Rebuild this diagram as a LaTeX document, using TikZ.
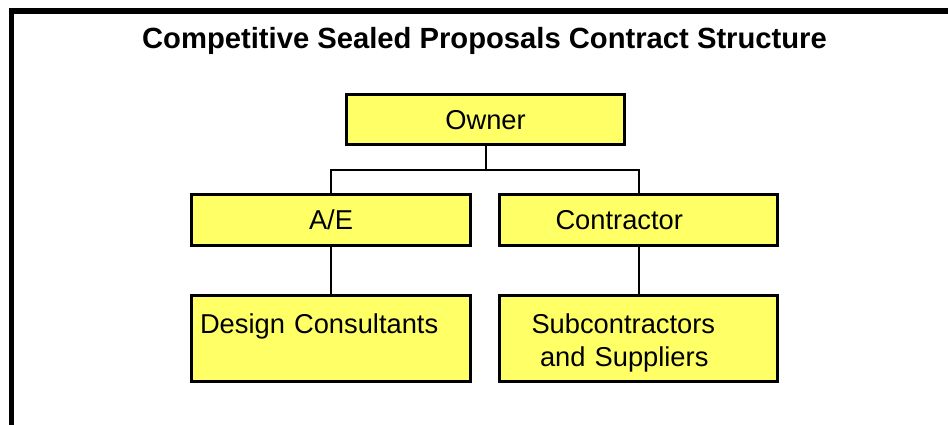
\documentclass[tikz,border=0pt]{standalone}
\usepackage{fontspec}
\setmainfont{Liberation Sans}
\definecolor{boxyellow}{HTML}{FFFF66}
\begin{document}
\begin{tikzpicture}[x=1pt,y=-1pt,
  box/.style={draw=black, line width=3pt, fill=boxyellow, inner sep=0pt,
    font=\fontsize{27.3}{33}\selectfont},
  single/.style={box, text height=19.5pt, text depth=0pt},
  tall/.style={box, align=left, text height=37.5pt, text depth=48.5pt, inner ysep=0pt},
  conn/.style={draw=black, line width=2pt},
  frame/.style={draw=black, line width=5.5pt}]
\useasboundingbox (0,0) rectangle (948,425);
\path[frame] (11.5,425) -- (11.5,11) -- (948,11);
\node[font=\bfseries\fontsize{29.2}{34}\selectfont, anchor=base] (title) at (484.5,48.5)
  {Competitive Sealed Proposals Contract Structure};
\node[single, minimum width=278pt, minimum height=50pt] (owner) at (485.5,119.5) {Owner};
\node[single, minimum width=279pt, minimum height=51pt] (ae) at (331,220) {A/E};
\node[single, minimum height=51pt, align=left, inner xsep=56pt, text width=166pt] (contractor) at (638.5,220) {Contractor};
\node[tall, inner xsep=8.5pt, text width=262pt] (design) at (331,338.5) {Design Consultants};
\node[tall, inner xsep=32pt, text width=214pt] (subs) at (638.5,338.5) {Subcontractors\\\hspace*{8.5pt}and Suppliers};
\coordinate (bus) at (0,170);
\draw[conn] (owner.south) -- (owner.south |- bus);
\draw[conn] (ae.north) -- (ae.north |- bus) -| (contractor.north);
\draw[conn] (ae.south) -- (design.north);
\draw[conn] (contractor.south) -- (subs.north);
\end{tikzpicture}
\end{document}
